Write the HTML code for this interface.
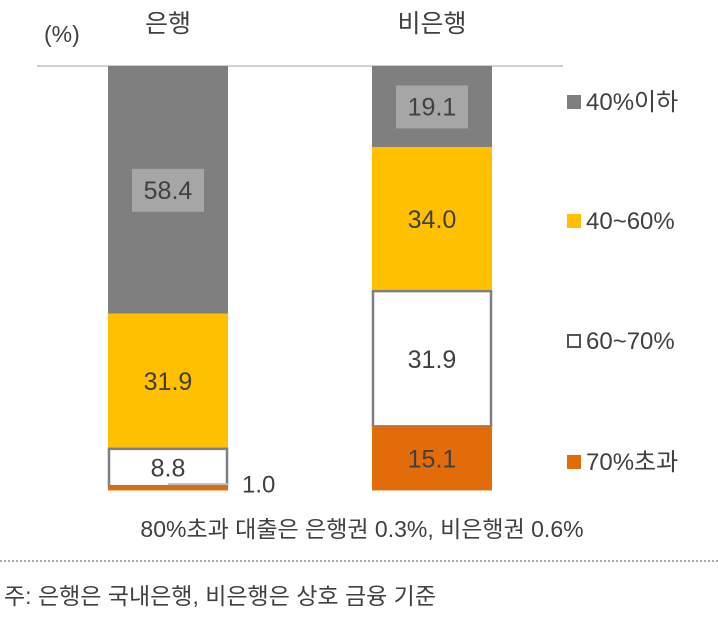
<!DOCTYPE html>
<html><head><meta charset="utf-8"><style>
body{margin:0;background:#fff;}
svg text{font-family:"Liberation Sans","Noto Sans CJK KR",sans-serif;fill:#404040;}
</style></head><body>
<svg id="c" width="718" height="616" xmlns="http://www.w3.org/2000/svg">
<text x="44" y="42" font-size="23">(%)</text>
<line x1="37" y1="66" x2="563" y2="66" stroke="#d0d0d0" stroke-width="2"/>
<text x="362" y="537" font-size="23" text-anchor="middle">80%초과 대출은 은행권 0.3%, 비은행권 0.6%</text>
<line x1="0" y1="561" x2="718" y2="561" stroke="#555" stroke-width="1" stroke-dasharray="2,2"/>
<text x="4" y="604" font-size="23">주: 은행은 국내은행, 비은행은 상호 금융 기준</text>
<g id="bars"></g>
<g id="legend"></g>
</svg>
<script>
const categories=["은행","비은행"];
const seriesNames=["40%이하","40~60%","60~70%","70%초과"];
const bankValues=[58.4,31.9,8.8,1.0];
const nonbankValues=[19.1,34.0,31.9,15.1];
const valueLabels=[["58.4","31.9","8.8","1.0"],["19.1","34.0","31.9","15.1"]];
const allValues=[bankValues,nonbankValues];
const fills=["#7f7f7f","#ffc000","#ffffff","#e36c0a"];
const top0=66,bottom0=490;
function y(v){return top0+(v/100)*(bottom0-top0);}
const barX=[108,372],barW=120;
const NS="http://www.w3.org/2000/svg";
const g=document.getElementById('bars');
function mk(t,a,p){const e=document.createElementNS(NS,t);for(const k in a)e.setAttribute(k,a[k]);(p||g).appendChild(e);return e;}
allValues.forEach((vals,ci)=>{
  const x=barX[ci];
  const t=mk('text',{x:x+barW/2,y:32,'font-size':25,'text-anchor':'middle'});
  
  
  t.textContent=categories[ci];
  let cum=0;
  vals.forEach((v,si)=>{
    const y1=y(cum),y2=y(cum+v);cum+=v;
    const r=mk('rect',{x:x,y:y1,width:barW,height:y2-y1,fill:fills[si]});
    if(si===2){r.setAttribute('stroke','#7f7f7f');r.setAttribute('stroke-width','2.5');r.setAttribute('x',x+1);r.setAttribute('width',barW-2);}
    
    
    const cy=(y1+y2)/2;
    if(ci===0&&si===3){
      const ln=mk('line',{x1:x+60,y1:y1-2,x2:x+barW,y2:y1-2,stroke:'#bbb','stroke-width':2});
      
      
      const lt=mk('text',{x:x+barW+14,y:y2+2,'font-size':24});
      
      
      lt.textContent=valueLabels[ci][si];
      return;
    }
    if(si===0){
      const b=mk('rect',{x:x+24,y:cy-21,width:72,height:43,fill:'#a6a6a6'});
      
      
    }
    const tt=mk('text',{x:x+barW/2,y:cy+9,'font-size':25,'text-anchor':'middle'});
    
    
    tt.textContent=valueLabels[ci][si];
  });
});
const lg=document.getElementById('legend');
const legY=[110,229,349,470];
seriesNames.forEach((n,i)=>{
  const r=mk('rect',{x:567,y:legY[i]-15,width:14,height:14,fill:fills[i]},lg);
  if(i===2){r.setAttribute('stroke','#555');r.setAttribute('stroke-width','2');r.setAttribute('x',568);r.setAttribute('y',legY[i]-14);r.setAttribute('width',12);r.setAttribute('height',12);}
  
  
  const t=mk('text',{x:586,y:legY[i],'font-size':24},lg);
  
  
  t.textContent=n;
});
</script>
</body></html>
